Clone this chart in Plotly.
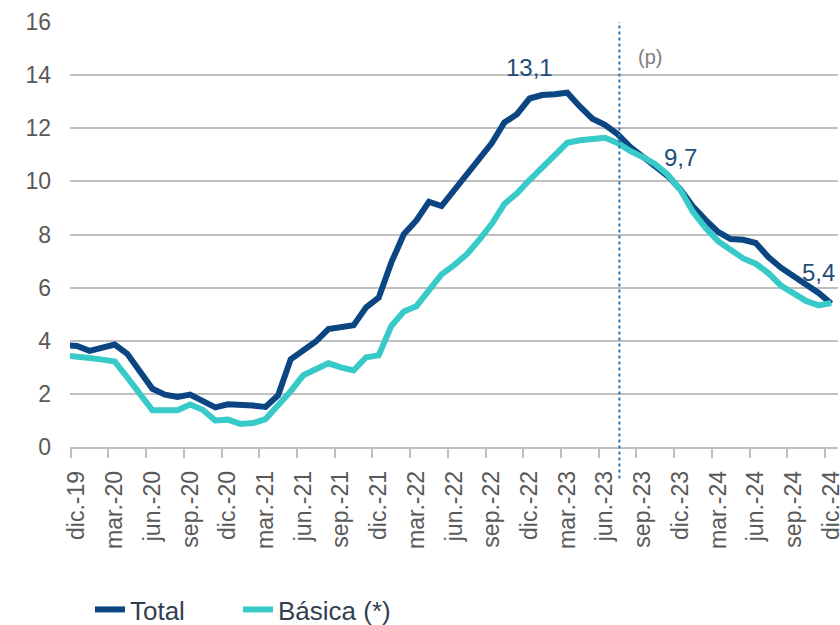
import plotly.graph_objects as go

# Monthly series from nov.-19 to dic.-24 (annual % variation)
month_abbr = ["ene.", "feb.", "mar.", "abr.", "may.", "jun.",
              "jul.", "ago.", "sep.", "oct.", "nov.", "dic."]

total = [3.84, 3.80, 3.62, 3.72, 3.86, 3.51, 2.85, 2.19, 1.97, 1.88, 1.97, 1.75, 1.49, 1.61,
         1.60, 1.56, 1.51, 1.95, 3.30, 3.63, 3.97, 4.44, 4.51, 4.58, 5.26, 5.62,
         6.94, 8.01, 8.53, 9.23, 9.07, 9.67, 10.21, 10.84, 11.44, 12.22, 12.53, 13.12,
         13.25, 13.28, 13.34, 12.82, 12.36, 12.13, 11.78,
         11.30, 10.93, 10.55, 10.20, 9.70,
         9.05, 8.55, 8.10, 7.83, 7.80, 7.68, 7.15, 6.75, 6.45, 6.12, 5.80, 5.40]

basica = [3.45, 3.42, 3.35, 3.29, 3.22, 2.62, 2.00, 1.38, 1.38, 1.38, 1.60, 1.40, 1.00, 1.03,
          0.87, 0.90, 1.05, 1.55, 2.10, 2.70, 2.92, 3.15, 3.00, 2.88, 3.38, 3.45,
          4.55, 5.10, 5.30, 5.90, 6.50, 6.85, 7.25, 7.80, 8.40, 9.15, 9.55, 10.05,
          10.50, 10.93, 11.45, 11.55, 11.60, 11.64, 11.45,
          11.15, 10.92, 10.65, 10.25, 9.68,
          8.85, 8.25, 7.75, 7.45, 7.10, 6.90, 6.55, 6.08, 5.78, 5.50, 5.33, 5.42]

# month labels (nov.-19 ... dic.-24) and index positions (dic.-19 = 0)
months = []
y, m = 2019, 11
for _ in range(len(total)):
    months.append(f"{month_abbr[m-1]}-{str(y)[2:]}")
    m += 1
    if m > 12:
        m, y = 1, y + 1
xpos = [k - 1 for k in range(len(months))]

tick_labels = [lab for lab, xp in zip(months, xpos) if xp >= 0 and xp % 3 == 0]
tick_vals = [xp for xp in xpos if xp >= 0 and xp % 3 == 0]
minor_vals = [v - 0.5 for v in tick_vals]

proj_start = 43.15   # jul.-23 boundary (projection starts)

peak_label = ("13,1", 36, 14.3)
dec23_label = ("9,7", 48, 10.9)
dec24_label = ("5,4", 60.45, 6.57)

FONT = "Liberation Sans, Arial, sans-serif"
C_TOTAL = "#0B4582"
C_BAS = "#38C9C9"
C_LAB = "#1F4E79"

fig = go.Figure()
fig.add_trace(go.Scatter(x=xpos, y=total, mode="lines", name="Total", legendwidth=103,
                         line=dict(color=C_TOTAL, width=6), hoverinfo="x+y"))
fig.add_trace(go.Scatter(x=xpos, y=basica, mode="lines", name="Básica (*)", legendwidth=135,
                         line=dict(color=C_BAS, width=6), hoverinfo="x+y"))

for txt, xv, yv in [peak_label, dec23_label]:
    fig.add_annotation(x=xv, y=yv, text=txt, showarrow=False,
                       font=dict(family=FONT, size=24, color=C_LAB))
fig.add_annotation(x=dec24_label[1], y=dec24_label[2], text=dec24_label[0], showarrow=False,
                   xanchor="right", font=dict(family=FONT, size=24, color=C_LAB))
fig.add_annotation(x=45.6, y=14.7, text="(p)", showarrow=False,
                   font=dict(family=FONT, size=20, color="#808080"))

fig.add_shape(type="line", xref="x", yref="paper", x0=proj_start, x1=proj_start,
              y0=-0.074, y1=1.0, line=dict(color="#2E75B6", width=2, dash="dot"))

fig.update_layout(
    width=840, height=640,
    margin=dict(l=70, r=2, t=22, b=193),
    paper_bgcolor="white", plot_bgcolor="white",
    font=dict(family=FONT, color="#595959"),
    showlegend=True,
    legend=dict(orientation="h", x=0.026, xanchor="left", y=-0.3824, yanchor="middle",
                font=dict(family=FONT, size=26, color="#333F50"),
                itemwidth=30, tracegroupgap=0, bgcolor="rgba(0,0,0,0)"),
    xaxis=dict(range=[-0.557, 60.54], tickmode="array", tickvals=tick_vals,
               ticktext=tick_labels, tickangle=-90, ticks="",
               tickfont=dict(family=FONT, size=23, color="#595959"),
               ticklabelstandoff=13, ticklabeloverflow="allow", automargin=False,
               showgrid=False, zeroline=False, showline=True,
               linecolor="#BFBFBF", linewidth=1.5,
               minor=dict(tickmode="array", tickvals=minor_vals, ticks="outside",
                          ticklen=9, tickwidth=1.5, tickcolor="#BFBFBF", showgrid=False)),
    yaxis=dict(range=[0, 16], tickmode="array", tickvals=list(range(0, 17, 2)),
               ticks="", tickfont=dict(family=FONT, size=23, color="#595959"),
               ticklabelstandoff=18, automargin=False,
               showgrid=True, gridcolor="#BFBFBF", gridwidth=1.5,
               zeroline=False, showline=False),
)

fig.write_html("out.html", config={"displayModeBar": False},
               post_script="document.body.style.margin='0';"
                           "document.body.style.overflow='hidden';")
